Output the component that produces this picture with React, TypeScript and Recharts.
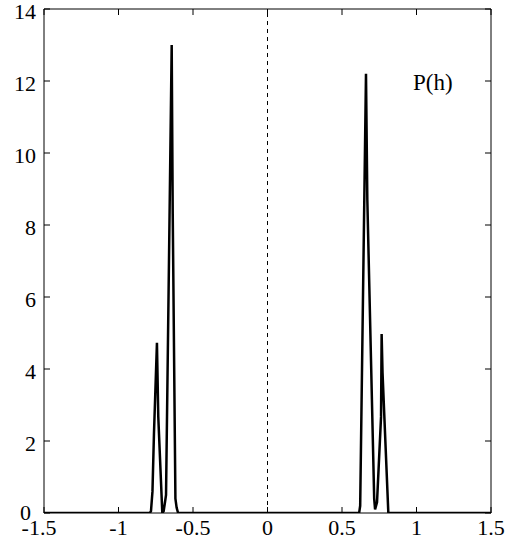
import React from "react";
import { LineChart, Line, XAxis, YAxis, ReferenceLine } from "recharts";

const hValues = [
  -1.5, -0.79, -0.782, -0.772, -0.762, -0.742, -0.733, -0.706, -0.697, -0.688, -0.681,
  -0.643, -0.636, -0.618, -0.61, -0.6,
  0.615, 0.622, 0.661, 0.67, 0.716, 0.722, 0.735, 0.762, 0.766, 0.772, 0.811, 1.5,
];
const pValues = [
  0, 0, 0.05, 0.6, 2.2, 4.73, 2.67, 0, 0.05, 0.3, 0.5,
  13.0, 8.3, 0.4, 0.15, 0,
  0, 0.2, 12.2, 8.7, 0.4, 0.1, 0.3, 2.67, 4.97, 3.9, 0, 0,
];
const xTicks = [-1.5, -1, -0.5, 0, 0.5, 1, 1.5];
const xTickLabels = ["-1.5", "-1", "-0.5", "0", "0.5", "1", "1.5"];
const yTicks = [0, 2, 4, 6, 8, 10, 12, 14];
const seriesLabel = "P(h)";

const data = hValues.map((h, i) => ({ h, p: pValues[i] }));

const font = "'Liberation Serif', 'Times New Roman', serif";

const NoLabel = () => <g />;

const XTickLabel = (props: any) => {
  const { x, y, payload } = props;
  const label = xTickLabels[xTicks.indexOf(payload.value)] ?? String(payload.value);
  const dx = payload.value === xTicks[0] ? -5 : 0;
  return (
    <text x={x} y={y} dx={dx} dy={16} textAnchor="middle" fill="#000" fontSize={22} fontFamily={font}>
      {label}
    </text>
  );
};

const YTickLabel = (props: any) => {
  const { x, y, payload } = props;
  const isZero = payload.value === 0;
  return (
    <text
      x={x}
      y={y}
      dx={isZero ? -5 : 0}
      dy={isZero ? 7 : 10}
      textAnchor="end"
      fill="#000"
      fontSize={22}
      fontFamily={font}
    >
      {String(payload.value)}
    </text>
  );
};

export default function App() {
  return (
    <div style={{ width: 515, height: 547, position: "relative" }}>
      <style>{`body{margin:0;background:#fff}`}</style>
      <LineChart
        width={515}
        height={547}
        data={data}
        margin={{ top: 0, right: 0, bottom: 0, left: 0 }}
      >
        <XAxis
          dataKey="h"
          type="number"
          domain={[-1.5, 1.5]}
          ticks={xTicks}
          height={34}
          tickSize={-6}
          tickMargin={12}
          stroke="#000"
          tick={<XTickLabel />}
          allowDataOverflow
        />
        <XAxis
          xAxisId="top"
          orientation="top"
          type="number"
          dataKey="h"
          domain={[-1.5, 1.5]}
          ticks={xTicks}
          height={9}
          tickSize={-6}
          tick={<NoLabel />}
          stroke="#000"
          allowDataOverflow
        />
        <YAxis
          type="number"
          domain={[0, 14]}
          ticks={yTicks}
          width={44}
          tickSize={-6}
          tickMargin={14}
          stroke="#000"
          tick={<YTickLabel />}
          allowDataOverflow
        />
        <YAxis
          yAxisId="right"
          orientation="right"
          type="number"
          domain={[0, 14]}
          ticks={yTicks}
          width={24}
          tickSize={-6}
          tick={<NoLabel />}
          stroke="#000"
          allowDataOverflow
        />
        <ReferenceLine x={0} stroke="#000" strokeDasharray="4 4" strokeWidth={1} />
        <Line
          dataKey="p"
          type="linear"
          stroke="#000"
          strokeWidth={2.5}
          dot={false}
          isAnimationActive={false}
        />
      </LineChart>
      <div
        style={{
          position: "absolute",
          left: 413,
          top: 71,
          fontFamily: font,
          fontSize: 23,
          color: "#000",
          lineHeight: 1,
        }}
      >
        {seriesLabel}
      </div>
    </div>
  );
}
